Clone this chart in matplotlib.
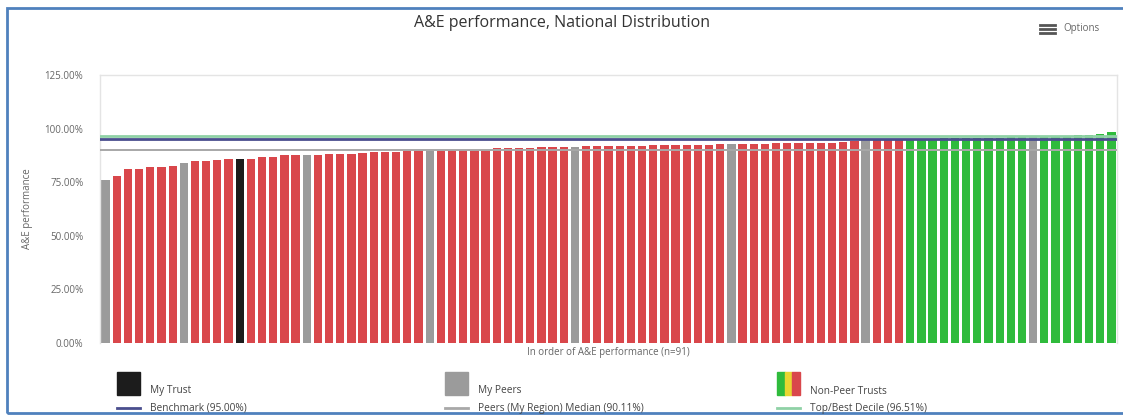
import matplotlib
matplotlib.use("Agg")
import matplotlib.pyplot as plt
from matplotlib.patches import Rectangle
from matplotlib.lines import Line2D
import numpy as np

plt.rcParams['font.family'] = ['Open Sans', 'DejaVu Sans']

# A&E performance per trust, sorted ascending (n=91)
values = [76.0, 78.0, 81.2, 81.2, 82.1, 82.1, 82.6, 84.1, 84.9, 84.9,
          85.4, 85.8, 85.8, 85.8, 86.8, 86.8, 87.7, 87.7, 87.7, 87.9,
          88.1, 88.1, 88.3, 88.4, 88.9, 88.9, 88.9, 89.5, 89.7, 89.7,
          89.7, 89.9, 89.9, 89.9, 90.0, 90.8, 90.8, 90.8, 90.8, 91.3,
          91.3, 91.3, 91.3, 91.8, 91.8, 91.8, 91.9, 91.9, 92.0, 92.3,
          92.3, 92.3, 92.3, 92.3, 92.3, 92.8, 92.8, 92.8, 92.8, 92.8,
          93.1, 93.1, 93.1, 93.1, 93.1, 93.1, 93.9, 94.4, 94.5, 94.6,
          94.7, 94.8, 95.2, 95.3, 95.3, 95.4, 95.4, 95.5, 95.5, 95.7,
          95.8, 95.9, 96.0, 96.0, 96.1, 96.2, 96.3, 96.8, 97.2, 97.3, 98.2]
my_trust = 12
my_peers = [0, 7, 18, 29, 42, 56, 68, 83]

benchmark = 95.00
peer_median = 90.11
top_decile = 96.51

yticks = [0, 25, 50, 75, 100, 125]

RED = '#d9474b'
GREEN = '#2fbb3c'
GREY = '#9b9b9b'
BLACK = '#1c1c1c'
YELLOW = '#e8d631'
TXT = '#666666'

W, H = 1123, 417
fig = plt.figure(figsize=(W / 100, H / 100), dpi=100)


def px(x, y):
    return x / W, 1 - y / H


colors = []
for i, v in enumerate(values):
    if i == my_trust:
        colors.append(BLACK)
    elif i in my_peers:
        colors.append(GREY)
    elif v >= benchmark:
        colors.append(GREEN)
    else:
        colors.append(RED)

l, b = px(100, 343)
r, t = px(1117, 75)
ax = fig.add_axes([l, b, r - l, t - b])
x = np.arange(len(values))
ax.bar(x, values, width=0.74, color=colors, zorder=2)
ax.axhline(peer_median, color='#a8a8a8', lw=1.4, zorder=3)
ax.axhline(benchmark, color='#4a4e8e', lw=2.0, zorder=4)
ax.axhline(top_decile, color='#8fd1a6', lw=2.0, zorder=4)

ax.set_xlim(-0.5, len(values) - 0.5)
ax.set_ylim(0, 125)
ax.set_yticks(yticks)
ax.set_yticklabels([f"{v:.2f}%" for v in yticks], fontsize=7, color=TXT)
ax.set_xticks([])
ax.tick_params(axis='y', length=0, pad=12)
for s in ax.spines.values():
    s.set_color('#e4e4e4')
    s.set_linewidth(1)
ax.spines['bottom'].set_visible(False)
ax.set_ylabel('A&E performance', fontsize=7, color=TXT, labelpad=8)
ax.set_xlabel('In order of A&E performance (n=91)', fontsize=7, color=TXT, labelpad=3)

# title and options button
fig.text(*px(562, 23), 'A&E performance, National Distribution',
         ha='center', va='center', fontsize=11.5, color='#333333')
for yy in (25, 29, 33):
    fig.add_artist(Line2D([1040 / W, 1055 / W], [1 - yy / H] * 2, color='#555555', lw=2))
fig.text(*px(1063, 29), 'Options', ha='left', va='center', fontsize=7, color=TXT)

# legend
sq = 23
for x0, col, label in [(117, BLACK, 'My Trust'), (445, GREY, 'My Peers')]:
    fig.add_artist(Rectangle(px(x0, 395), sq / W, sq / H, color=col, transform=fig.transFigure))
    fig.text(*px(x0 + 33, 391), label, ha='left', va='center', fontsize=7.3, color='#444444')
for k, col in enumerate([GREEN, YELLOW, RED]):
    fig.add_artist(Rectangle(px(777 + k * sq / 3, 395), sq / 3 / W, sq / H, color=col,
                             transform=fig.transFigure))
fig.text(*px(810, 391), 'Non-Peer Trusts', ha='left', va='center', fontsize=7.3, color='#444444')

for x0, col, label in [(117, '#4a4e8e', f'Benchmark ({benchmark:.2f}%)'),
                       (445, '#a8a8a8', f'Peers (My Region) Median ({peer_median:.2f}%)'),
                       (777, '#8fd1a6', f'Top/Best Decile ({top_decile:.2f}%)')]:
    fig.add_artist(Line2D([x0 / W, (x0 + sq) / W], [1 - 408 / H] * 2, color=col, lw=2))
    fig.text(*px(x0 + 33, 408), label, ha='left', va='center', fontsize=7.3, color='#444444')

# screenshot frame
fig.add_artist(Rectangle(px(7, 413), (W + 10) / W, 405 / H, fill=False,
                         edgecolor='#4f81bd', lw=2, transform=fig.transFigure))

fig.savefig('out.png', dpi=100)
